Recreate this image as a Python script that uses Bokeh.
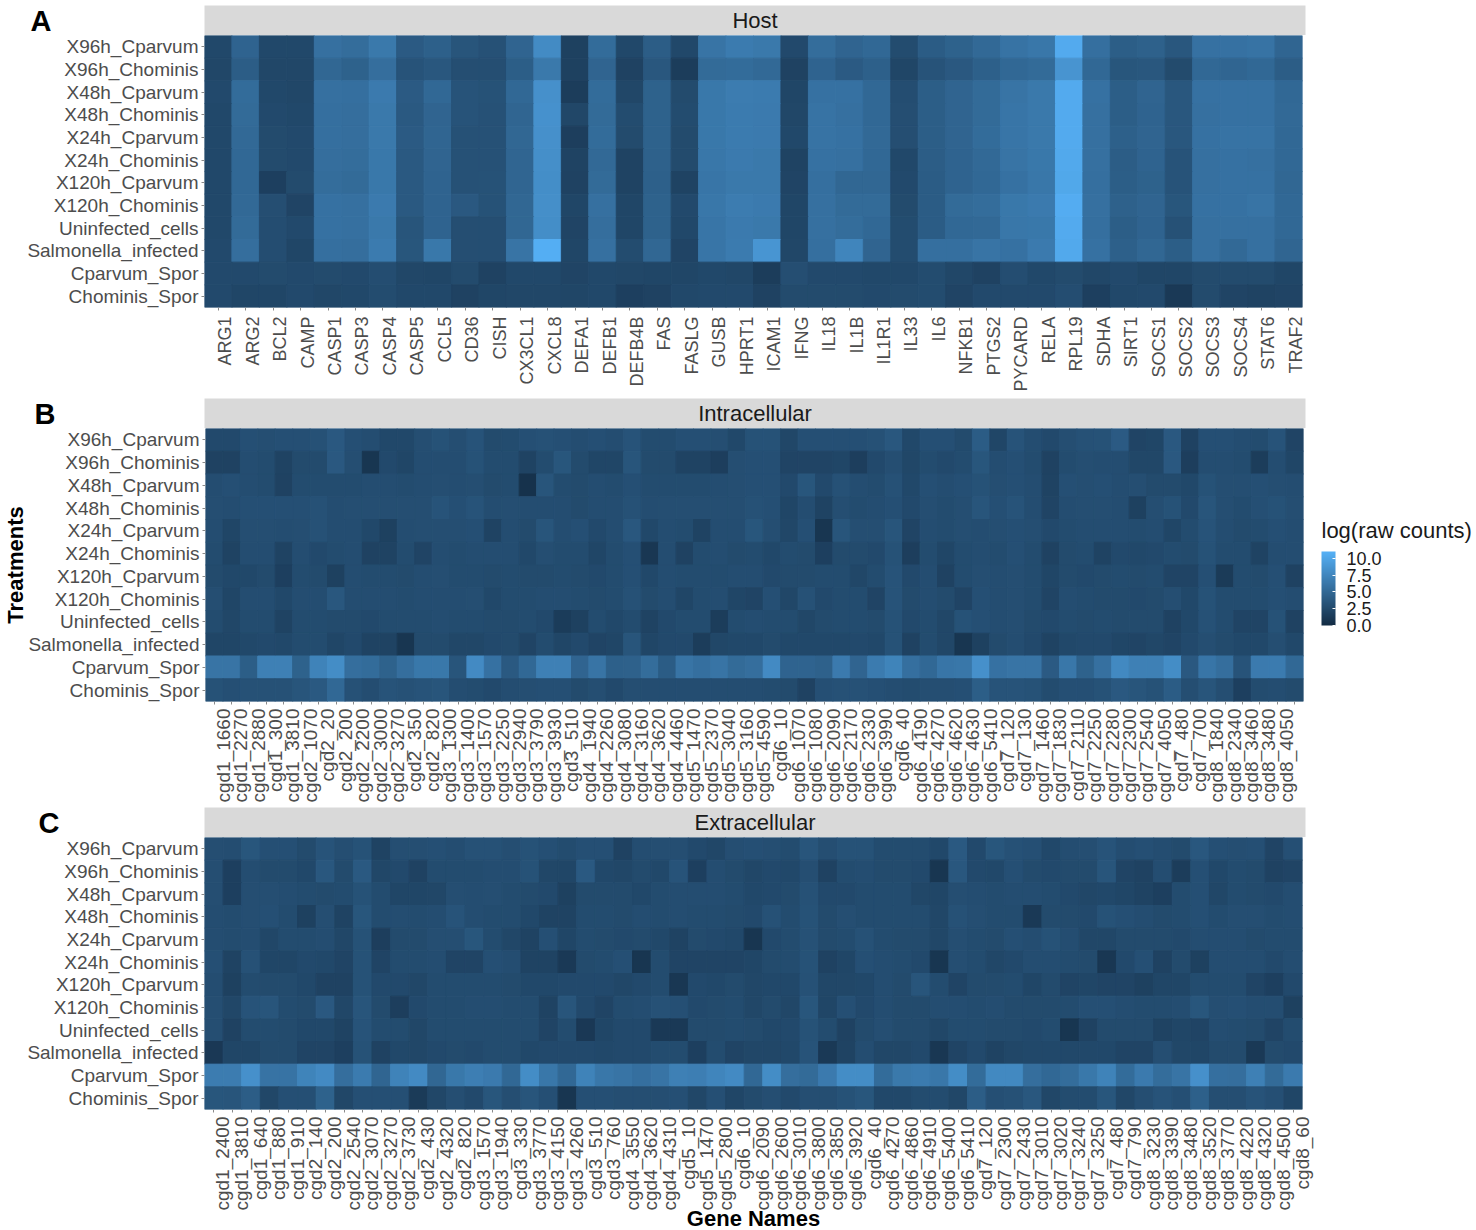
import math
from bokeh.embed import file_html
from bokeh.resources import INLINE
from bokeh.plotting import figure
from bokeh.layouts import column, row
from bokeh.models import (ColumnDataSource, FactorRange, Range1d, LinearColorMapper, ColorBar, LinearAxis,
                          FixedTicker, NumeralTickFormatter, Label, AllLabels)
from bokeh.transform import transform

treatments = ["X96h_Cparvum", "X96h_Chominis", "X48h_Cparvum", "X48h_Chominis", "X24h_Cparvum", "X24h_Chominis",
              "X120h_Cparvum", "X120h_Chominis", "Uninfected_cells", "Salmonella_infected", "Cparvum_Spor", "Chominis_Spor"]

host_genes = ["ARG1", "ARG2", "BCL2", "CAMP", "CASP1", "CASP3", "CASP4", "CASP5", "CCL5", "CD36", "CISH", "CX3CL1", "CXCL8",
              "DEFA1", "DEFB1", "DEFB4B", "FAS", "FASLG", "GUSB", "HPRT1", "ICAM1", "IFNG", "IL18", "IL1B", "IL1R1", "IL33",
              "IL6", "NFKB1", "PTGS2", "PYCARD", "RELA", "RPL19", "SDHA", "SIRT1", "SOCS1", "SOCS2", "SOCS3", "SOCS4", "STAT6", "TRAF2"]

intra_genes = ["cgd1_1660", "cgd1_2270", "cgd1_2880", "cgd1_300", "cgd1_3810", "cgd2_1070", "cgd2_20", "cgd2_200", "cgd2_2200",
               "cgd2_3000", "cgd2_3270", "cgd2_350", "cgd2_820", "cgd3_1300", "cgd3_1400", "cgd3_1570", "cgd3_2250", "cgd3_2940",
               "cgd3_3790", "cgd3_3930", "cgd3_510", "cgd4_1940", "cgd4_2260", "cgd4_3080", "cgd4_3160", "cgd4_3620", "cgd4_4460",
               "cgd5_1470", "cgd5_2370", "cgd5_3040", "cgd5_3160", "cgd5_4590", "cgd6_10", "cgd6_1070", "cgd6_1080", "cgd6_2090",
               "cgd6_2170", "cgd6_2330", "cgd6_3990", "cgd6_40", "cgd6_4190", "cgd6_4270", "cgd6_4620", "cgd6_4630", "cgd6_5410",
               "cgd7_120", "cgd7_130", "cgd7_1460", "cgd7_1830", "cgd7_2110", "cgd7_2250", "cgd7_2280", "cgd7_2300", "cgd7_2540",
               "cgd7_4050", "cgd7_480", "cgd7_700", "cgd8_1840", "cgd8_2340", "cgd8_3460", "cgd8_3480", "cgd8_4050", "cgd8_4500"]

extra_genes = ["cgd1_2400", "cgd1_3810", "cgd1_640", "cgd1_880", "cgd1_910", "cgd2_140", "cgd2_200", "cgd2_2540", "cgd2_3070",
               "cgd2_3270", "cgd2_3730", "cgd2_430", "cgd2_4320", "cgd2_820", "cgd3_1570", "cgd3_1940", "cgd3_330", "cgd3_3770",
               "cgd3_4150", "cgd3_4260", "cgd3_510", "cgd3_760", "cgd4_3550", "cgd4_3620", "cgd4_4310", "cgd5_10", "cgd5_1470",
               "cgd5_2800", "cgd6_10", "cgd6_2090", "cgd6_2600", "cgd6_3010", "cgd6_3800", "cgd6_3850", "cgd6_3920", "cgd6_40",
               "cgd6_4270", "cgd6_4860", "cgd6_4910", "cgd6_5400", "cgd6_5410", "cgd7_120", "cgd7_2300", "cgd7_2430", "cgd7_3010",
               "cgd7_3020", "cgd7_3240", "cgd7_3250", "cgd7_480", "cgd7_790", "cgd8_3230", "cgd8_3390", "cgd8_3480", "cgd8_3520",
               "cgd8_3770", "cgd8_4220", "cgd8_4320", "cgd8_4500", "cgd8_60"]

# Host panel, one list per treatment (top to bottom)
host_x96_cp = [2.4,4.6,2.4,2.4,5.7,5.4,6.4,3.9,4.3,3.4,3.1,4.7,7.9,1.8,5.3,2.4,4.1,2.4,6.0,6.6,6.4,2.5,5.4,4.7,5.0,2.7,4.0,4.5,5.1,5.9,6.2,10.4,5.6,4.2,4.4,3.6,5.8,5.8,5.9,4.8]
host_x96_ch = [2.3,4.1,2.3,2.3,4.9,4.5,5.5,3.3,3.6,2.9,2.9,4.2,6.4,1.8,4.7,1.9,3.6,1.5,5.2,5.3,5.1,1.9,4.6,3.9,4.3,2.2,3.3,3.7,4.3,5.0,5.2,8.6,5.0,3.5,3.6,2.6,5.0,4.8,5.0,4.1]
host_x48_cp = [2.5,5.3,2.4,2.3,5.7,5.6,6.5,3.9,5.0,3.3,3.2,5.0,8.3,1.5,5.3,2.3,4.5,2.6,6.3,6.7,6.6,2.2,5.8,5.8,5.0,2.8,4.2,4.7,5.2,6.0,6.4,10.4,5.8,4.2,4.7,3.6,5.8,5.8,5.8,5.0]
host_x48_ch = [2.4,5.2,2.5,2.4,5.6,5.5,6.4,3.8,4.7,3.3,3.1,4.8,8.4,2.3,5.2,2.7,4.5,2.7,6.3,6.6,6.5,2.3,5.9,5.7,5.0,2.9,4.2,4.7,5.2,6.1,6.4,10.4,5.7,4.2,4.6,3.6,5.7,5.8,5.8,5.1]
host_x24_cp = [2.4,5.1,2.6,2.5,5.6,5.5,6.4,3.9,4.8,3.1,3.1,4.9,8.3,1.6,5.3,2.6,4.5,2.6,6.3,6.6,6.5,2.4,5.9,5.8,5.1,2.9,4.2,4.7,5.3,6.1,6.4,10.4,5.7,4.3,4.7,3.6,5.8,5.9,5.9,5.0]
host_x24_ch = [2.4,5.0,2.6,2.5,5.5,5.4,6.3,3.8,4.7,3.1,3.1,4.8,8.2,2.0,5.1,2.0,4.4,2.6,6.2,6.5,6.4,2.0,5.8,5.7,5.0,2.4,4.1,4.6,5.1,6.0,6.3,10.3,5.7,4.1,4.6,3.3,5.7,5.8,5.7,5.0]
host_x120_cp = [2.4,5.0,1.7,2.6,5.4,5.2,6.3,3.8,4.6,3.1,3.2,4.8,8.1,1.9,5.2,2.0,4.3,2.0,6.1,6.4,6.4,2.1,5.6,4.9,4.9,2.5,4.0,4.6,5.0,5.8,6.2,10.2,5.6,4.2,4.5,3.3,5.7,5.8,5.8,4.9]
host_x120_ch = [2.4,5.1,2.9,2.1,5.8,5.7,6.5,3.8,4.6,3.7,3.2,4.9,8.2,2.2,5.7,2.2,4.5,2.5,6.2,6.7,6.5,2.2,5.7,5.2,5.2,2.6,4.0,5.2,5.4,6.3,6.5,10.6,5.7,4.4,4.7,3.5,5.8,5.8,6.0,5.0]
host_uninf = [2.4,5.2,2.8,2.5,5.8,5.7,6.4,3.4,4.6,2.9,2.9,4.9,8.1,2.1,5.5,2.2,4.5,2.4,6.1,6.5,6.4,2.2,5.7,5.4,5.0,2.7,4.0,5.0,5.1,6.2,6.3,10.4,5.6,4.2,4.6,3.1,5.7,5.7,5.7,5.0]
host_salm = [2.5,5.5,2.8,2.2,5.6,5.5,6.6,3.5,6.3,2.9,2.9,6.0,10.7,2.2,5.7,2.7,4.9,2.1,6.1,6.6,8.7,2.3,5.6,7.4,4.7,2.7,5.6,5.6,6.0,5.8,6.5,10.3,5.8,4.3,4.9,4.2,5.7,5.1,5.7,4.8]
host_cp_spor = [2.5,2.5,2.6,2.5,2.6,2.5,2.8,2.3,2.2,2.6,1.9,2.4,2.4,2.1,2.4,2.3,2.2,2.2,2.4,2.3,1.5,2.9,2.5,2.5,2.4,2.4,2.7,2.3,1.9,2.8,2.4,2.6,2.3,2.5,2.2,2.2,2.6,2.6,2.6,2.2]
host_ch_spor = [2.5,2.2,2.2,2.5,2.3,2.4,2.7,2.4,2.4,1.9,2.2,2.3,2.3,2.2,2.4,1.7,1.9,2.4,2.5,2.5,1.9,2.6,2.6,2.6,2.5,2.6,2.7,2.1,2.5,2.5,2.5,2.8,1.7,2.4,2.5,1.2,2.6,2.1,2.0,2.1]

# Intracellular panel
intra_x96_cp = [2.5,2.5,3.0,2.9,3.0,3.0,3.1,3.7,3.0,2.8, 2.4,2.4,2.9,3.2,2.9,3.3,2.6,2.7,3.0,3.1, 3.0,2.8,3.0,2.8,3.3,2.7,2.7,3.0,3.0,2.9, 2.4,3.2,3.2,2.3,3.0,3.0,3.0,3.0,3.1,3.6, 2.4,3.0,3.0,2.6,4.0,2.2,3.3,2.8,2.5,2.9, 3.1,3.2,3.9,2.1,2.2,3.7,1.9,3.0,3.0,2.8, 2.7,3.3,2.1]
intra_x96_ch = [1.9,1.9,2.8,2.7,2.0,2.6,2.6,3.7,2.9,0.9, 2.5,2.2,2.8,2.8,2.8,3.2,2.7,2.7,2.0,2.7, 3.5,2.6,2.2,2.2,3.4,2.6,2.6,2.0,2.0,1.6, 2.9,3.0,3.0,2.1,2.1,2.1,2.2,1.6,2.5,2.9, 2.3,2.7,2.5,2.7,3.5,2.8,3.0,2.7,1.9,2.7, 2.9,2.8,2.8,2.3,2.3,3.7,1.6,2.8,2.8,2.7, 1.5,2.8,2.2]
intra_x48_cp = [2.8,3.0,2.8,2.7,1.9,2.7,2.7,2.7,2.7,2.8, 2.8,2.7,2.8,2.9,2.8,2.9,2.6,2.7,0.6,3.4, 2.7,2.6,2.8,2.7,3.0,2.7,2.7,2.7,2.7,2.8, 2.9,3.0,3.0,2.5,3.5,2.5,3.1,2.8,2.7,3.1, 2.4,3.0,2.8,3.0,3.2,2.9,3.0,2.8,2.0,3.0, 2.9,3.0,2.8,2.9,2.6,2.6,2.4,3.2,2.9,2.9, 3.0,2.9,2.8]
intra_x48_ch = [2.9,2.8,3.0,3.0,3.0,3.0,3.1,2.8,2.9,2.9, 2.9,2.9,2.9,3.3,3.0,3.3,2.8,2.9,2.8,2.8, 2.8,2.6,2.8,2.8,3.1,2.8,2.9,2.9,2.9,2.9, 2.9,3.1,3.0,2.2,2.8,2.0,2.9,2.7,2.8,3.0, 2.5,2.9,2.7,2.9,3.4,3.0,3.3,2.8,2.1,2.8, 2.9,2.9,2.8,1.8,2.9,3.2,2.5,3.4,2.9,2.7, 3.0,3.2,2.9]
intra_x24_cp = [2.8,2.2,2.9,2.9,2.8,2.9,3.1,2.8,2.8,2.4, 1.8,2.8,2.9,2.9,2.9,3.0,2.0,2.8,2.6,3.4, 2.8,3.0,2.5,2.8,3.6,2.4,2.8,2.7,2.0,2.8, 2.8,3.5,2.9,2.3,3.0,0.9,3.4,2.9,2.9,3.4, 2.1,2.8,2.7,2.9,2.8,2.9,3.0,2.9,2.5,2.7, 2.8,2.8,2.8,2.7,2.8,2.2,2.7,3.3,2.8,2.6, 2.7,3.0,2.8]
intra_x24_ch = [2.7,2.0,2.8,2.8,2.0,2.8,2.5,2.7,2.8,1.9, 2.0,2.7,2.1,2.8,2.7,2.8,2.8,2.8,2.4,2.9, 2.7,2.7,2.2,2.7,3.0,1.0,2.8,1.9,2.7,2.8, 2.6,2.7,2.4,2.7,2.6,1.7,2.6,2.6,2.5,3.2, 1.6,2.7,2.2,2.7,2.8,2.7,3.0,2.7,1.9,2.6, 2.7,2.0,2.5,2.4,2.5,2.7,2.6,3.2,2.7,2.7, 2.0,2.8,2.8]
intra_x120_cp = [2.6,2.4,2.4,2.6,1.7,2.7,2.6,1.8,2.8,2.7, 2.7,2.6,2.8,2.9,2.7,2.7,2.6,2.7,2.6,2.6, 2.7,2.6,2.5,2.7,3.0,2.4,2.8,2.7,2.7,2.7, 2.8,2.8,2.5,2.6,2.6,2.7,2.7,2.3,2.7,3.3, 2.5,2.8,1.9,2.7,2.9,2.8,2.9,2.7,2.2,2.6, 2.5,2.6,2.7,2.6,2.7,2.1,2.1,3.0,1.3,2.7, 2.6,3.0,1.9]
intra_x120_ch = [2.9,2.2,2.8,2.8,2.4,2.8,2.8,3.6,2.8,2.8, 2.8,2.7,2.8,2.8,2.8,2.9,2.4,2.7,2.7,2.8, 2.8,2.7,2.6,2.7,3.1,2.6,2.8,2.2,2.7,2.8, 2.2,2.1,3.0,2.3,3.1,2.5,2.7,2.7,2.1,3.3, 2.6,2.8,2.6,2.1,3.0,2.8,2.9,2.7,2.1,2.8, 2.7,2.6,2.6,2.5,2.6,2.9,2.4,3.2,2.7,2.7, 2.7,3.0,2.8]
intra_uninf = [2.7,2.3,2.7,2.7,2.0,2.7,2.7,2.6,2.6,2.5, 2.7,2.7,2.7,2.8,2.7,2.7,2.6,2.6,2.7,2.5, 1.4,1.8,2.7,2.4,2.7,2.0,2.5,2.7,2.7,1.5, 2.7,2.8,2.7,2.7,2.3,2.6,2.7,2.7,2.6,3.2, 2.5,2.7,2.3,3.2,3.0,2.8,2.9,2.6,2.5,2.7, 2.6,2.7,2.6,2.6,2.6,1.9,2.4,3.1,2.7,2.1, 2.1,3.2,1.9]
intra_salm = [2.2,2.2,2.4,2.5,2.4,2.7,2.7,2.2,2.5,2.0, 2.0,0.9,2.6,2.6,2.3,2.3,2.5,2.6,2.1,2.7, 2.2,2.5,2.1,2.2,3.4,2.2,2.5,2.5,1.5,2.3, 2.4,2.4,2.6,2.4,2.4,2.4,2.4,2.5,2.4,3.2, 1.9,2.7,2.3,0.9,1.8,2.6,2.8,2.5,2.0,2.4, 2.5,2.5,2.2,2.1,2.3,2.1,2.5,2.9,2.6,2.4, 2.4,2.9,2.4]
intra_cp_spor = [6.0,6.0,4.2,7.0,7.0,4.5,7.2,8.0,5.5,5.3, 4.5,5.5,6.3,6.3,3.4,7.8,5.8,3.8,5.0,7.0, 7.0,4.7,6.0,4.3,4.4,5.4,4.0,6.0,5.6,6.0, 5.2,5.5,7.8,4.6,4.6,4.4,6.5,4.7,6.6,7.3, 5.6,5.0,6.1,6.2,8.3,5.8,6.0,6.0,3.9,6.2, 4.5,5.7,7.7,7.0,7.0,8.0,3.7,6.1,5.5,3.3, 6.5,6.6,5.0]
intra_ch_spor = [3.2,3.0,3.1,3.1,3.1,3.4,3.8,5.0,3.1,2.8, 3.3,3.1,3.3,3.4,2.8,2.7,2.5,2.8,2.9,3.0, 3.0,2.6,2.9,2.5,2.9,2.8,2.8,2.8,2.8,2.8, 2.8,2.8,2.7,2.6,1.9,3.0,3.1,3.1,3.0,2.8, 2.7,2.9,2.9,3.0,4.2,3.3,3.3,3.2,2.7,3.0, 3.0,3.2,3.7,3.4,3.2,4.0,2.9,3.4,2.9,1.7, 2.7,2.8,2.6]

# Extracellular panel
extra_x96_cp = [2.9,2.8,3.5,3.0,3.0,2.6,3.3,2.9,3.2,2.0, 2.9,2.9,3.0,2.8,3.1,3.1,2.9,3.2,3.0,2.7, 3.0,3.0,1.9,2.8,2.9,2.9,2.5,2.3,2.9,3.0, 2.9,2.7,3.4,2.9,3.2,3.2,2.7,2.7,2.7,2.4, 3.8,2.5,3.5,3.1,3.0,2.4,2.8,2.9,3.3,2.8, 3.0,2.8,2.6,3.6,3.0,2.9,3.0,2.1,3.0]
extra_x96_ch = [2.9,1.7,2.8,2.6,2.6,2.4,3.6,2.6,3.8,2.3, 2.5,1.9,2.7,2.7,2.7,2.8,2.8,3.2,2.3,2.2, 3.8,2.4,2.3,2.6,2.4,3.3,1.7,2.8,2.6,2.3, 2.5,2.4,2.9,1.9,2.7,2.8,2.6,2.6,2.5,0.9, 3.6,2.5,2.4,3.0,2.6,2.5,2.6,2.6,3.4,2.1, 1.9,2.8,1.5,3.0,2.4,2.7,2.6,1.9,2.1]
extra_x48_cp = [2.9,1.7,2.9,2.9,2.8,2.7,2.6,2.7,3.2,2.7, 2.2,2.2,2.3,2.9,2.8,2.9,2.7,2.6,2.5,1.8, 2.6,2.6,2.6,2.4,2.7,2.8,2.8,2.8,2.7,2.4, 2.5,2.6,3.1,2.5,2.5,2.7,2.7,2.7,2.3,2.2, 2.9,2.8,2.7,2.8,2.8,2.7,2.5,2.3,2.4,2.2, 2.0,1.7,2.7,3.0,2.3,2.7,2.6,2.5,2.8]
extra_x48_ch = [2.8,2.7,2.9,3.0,2.7,1.8,2.9,2.0,3.5,2.7, 2.8,2.7,2.8,3.3,2.8,2.7,2.7,2.4,2.0,2.0, 2.7,2.7,2.6,2.8,2.7,2.8,2.7,2.7,2.6,2.5, 3.1,2.7,3.2,2.6,2.9,2.7,2.7,2.7,2.7,2.3, 3.1,2.9,2.7,2.7,1.2,2.6,2.6,2.5,3.2,3.0, 2.8,2.6,2.7,3.0,2.7,2.9,2.9,2.7,2.8]
extra_x24_cp = [2.8,2.7,2.8,2.3,2.7,2.7,2.8,2.3,3.2,1.6, 2.6,2.6,2.9,2.9,3.5,2.7,2.3,2.0,3.0,2.2, 2.7,2.6,2.5,2.6,2.4,2.0,2.6,2.5,2.4,0.9, 2.5,2.7,3.1,2.6,2.7,3.1,2.7,2.6,2.6,2.3, 2.9,2.7,2.6,3.0,2.8,3.2,2.8,2.3,2.3,2.6, 2.6,2.6,2.5,2.8,2.8,2.8,2.6,2.7,2.7]
extra_x24_ch = [3.0,2.0,3.1,2.2,2.2,2.5,2.4,2.1,3.2,2.1, 2.7,2.7,2.8,2.1,2.1,3.0,2.8,2.0,2.0,1.2, 2.6,2.7,3.0,0.9,2.7,2.1,2.1,2.1,2.1,2.2, 2.6,2.7,3.2,1.9,2.2,3.0,2.8,2.7,2.5,0.9, 2.9,2.7,2.3,2.5,2.8,2.8,2.7,2.6,1.0,2.5, 3.0,1.9,2.6,1.8,2.8,2.8,2.8,2.5,2.8]
extra_x120_cp = [2.8,1.8,2.7,2.6,2.6,2.4,1.9,1.9,3.2,2.5, 2.5,2.3,2.7,2.7,2.7,2.7,2.6,2.4,2.4,2.5, 2.5,2.5,2.3,2.5,2.7,1.0,2.5,2.4,2.6,2.3, 2.4,2.4,3.1,2.3,2.3,2.4,2.8,2.6,3.4,2.7, 2.1,2.6,2.6,2.7,2.2,2.6,2.1,2.2,2.1,2.1, 1.8,2.2,2.2,2.7,2.7,2.7,2.1,1.7,2.5]
extra_x120_ch = [2.9,2.3,3.3,3.4,2.7,2.6,3.7,2.3,3.4,2.6, 1.6,2.5,2.7,2.7,2.8,2.8,2.7,2.7,2.0,3.4, 2.5,2.1,2.7,2.8,3.1,3.0,2.5,2.6,2.7,2.3, 2.6,2.3,3.5,2.2,3.0,2.5,2.8,2.6,2.6,2.8, 2.8,2.7,2.8,2.6,2.6,2.6,2.7,3.0,3.0,2.8, 2.7,2.7,2.8,3.5,2.9,3.0,2.8,2.8,1.8]
extra_uninf = [2.9,1.9,2.7,2.7,2.6,2.4,2.4,2.0,3.3,2.7, 2.7,2.3,2.7,2.7,2.7,2.7,2.7,2.7,2.1,2.7, 1.1,2.2,2.5,2.5,1.2,1.2,2.6,2.6,2.7,2.6, 2.4,2.5,3.2,2.7,1.9,2.6,2.9,2.6,2.6,2.3, 2.7,2.7,2.6,2.6,2.5,2.7,0.9,1.9,2.6,2.6, 2.6,2.0,2.2,2.1,2.8,2.7,2.6,2.1,2.7]
extra_salm = [1.1,2.2,2.2,2.6,2.6,2.1,2.1,1.7,3.2,1.9, 2.4,2.3,2.5,2.6,2.5,2.7,2.7,2.4,2.5,2.5, 2.5,2.4,2.5,2.5,2.7,2.7,1.7,2.7,2.1,2.3, 2.3,2.4,3.3,1.2,2.0,2.8,2.3,2.3,2.5,1.0, 2.1,2.5,2.0,2.3,2.4,2.4,2.4,2.4,2.4,2.1, 2.1,2.9,2.3,2.2,2.6,2.6,1.2,2.6,2.5]
extra_cp_spor = [6.7,6.7,8.3,5.9,5.9,7.3,7.8,5.5,6.6,4.8, 7.2,7.8,4.9,6.3,6.8,6.5,5.0,8.0,6.2,5.0, 7.2,6.2,6.0,5.6,6.0,7.0,6.8,7.4,7.8,5.0, 8.0,5.5,5.2,6.5,8.0,8.0,5.3,6.4,6.6,6.2, 8.0,5.3,7.7,7.7,5.5,5.0,5.4,6.3,7.2,5.3, 6.5,5.4,6.0,8.3,5.6,5.5,7.0,5.2,6.5]
extra_ch_spor = [3.5,3.4,4.1,2.3,3.0,3.0,4.5,2.3,3.0,3.0, 3.0,1.3,2.3,2.9,2.5,3.5,2.9,3.4,3.0,0.9, 3.0,3.0,2.9,2.9,2.9,3.0,2.3,3.0,2.2,2.6, 2.9,2.5,2.9,2.9,3.2,3.5,2.4,2.4,2.7,2.7, 2.3,4.1,3.0,3.1,3.6,2.3,2.7,2.7,3.5,2.3, 2.9,3.3,3.0,4.3,2.9,2.9,3.3,3.0,2.2]

host_rows = [host_x96_cp, host_x96_ch, host_x48_cp, host_x48_ch, host_x24_cp, host_x24_ch, host_x120_cp, host_x120_ch,
             host_uninf, host_salm, host_cp_spor, host_ch_spor]
intra_rows = [intra_x96_cp, intra_x96_ch, intra_x48_cp, intra_x48_ch, intra_x24_cp, intra_x24_ch, intra_x120_cp, intra_x120_ch,
              intra_uninf, intra_salm, intra_cp_spor, intra_ch_spor]
extra_rows = [extra_x96_cp, extra_x96_ch, extra_x48_cp, extra_x48_ch, extra_x24_cp, extra_x24_ch, extra_x120_cp, extra_x120_ch,
              extra_uninf, extra_salm, extra_cp_spor, extra_ch_spor]

FONT = "Liberation Sans"
low, high = (19, 43, 67), (86, 177, 247)
palette = ["#%02x%02x%02x" % tuple(round(a + (b - a) * i / 255) for a, b in zip(low, high)) for i in range(256)]
mapper = LinearColorMapper(palette=palette, low=0, high=11)
FRAME_W = 1098


def strip(name, letter, letter_standoff, top, height):
    s = figure(frame_width=1101, frame_height=height, x_range=Range1d(0, 1), y_range=Range1d(0, 1),
               x_axis_type=None, toolbar_location=None, output_backend="svg",
               background_fill_color="#d9d9d9", outline_line_color=None,
               min_border_left=204, min_border_right=171, min_border_top=top, min_border_bottom=0)
    s.grid.visible = False
    ax = s.yaxis[0]
    ax.ticker = []
    ax.axis_line_color = None
    ax.major_tick_line_color = None
    ax.minor_tick_line_color = None
    ax.major_label_text_color = None
    ax.axis_label = letter
    ax.axis_label_orientation = "horizontal"
    ax.axis_label_standoff = letter_standoff
    ax.axis_label_text_font = FONT
    ax.axis_label_text_font_size = "29px"
    ax.axis_label_text_font_style = "bold"
    ax.axis_label_text_color = "#000000"
    s.add_layout(Label(x=0.5, y=0.5, text=name, text_font=FONT, text_font_size="22px", text_color="#1a1a1a",
                       text_align="center", text_baseline="middle"))
    return s


def panel(genes, rows, height, bottom, label_size, standoff, right, label_shift_px):
    xs, gs, ys, vs = [], [], [], []
    for t, r in zip(treatments, rows):
        for i, (g, v) in enumerate(zip(genes, r)):
            xs.append(i); gs.append(g); ys.append(t); vs.append(v)
    source = ColumnDataSource(dict(position=xs, gene=gs, treatment=ys, value=vs))
    n = len(genes)
    shift = label_shift_px / (FRAME_W / n)
    p = figure(frame_width=FRAME_W, frame_height=height, x_range=Range1d(-0.5, n - 0.5),
               y_range=FactorRange(*reversed(treatments)), toolbar_location=None, output_backend="svg",
               outline_line_color=None, min_border_left=204, min_border_right=right, min_border_top=0,
               min_border_bottom=bottom)
    p.rect(x="position", y="treatment", width=1, height=1, source=source, fill_color=transform("value", mapper),
           line_color=transform("value", mapper), line_width=1)
    p.grid.visible = False
    for ax in (p.xaxis[0], p.yaxis[0]):
        ax.axis_line_color = None
        ax.major_tick_line_color = "#8a8a8a"
        ax.major_tick_out = 3
        ax.major_tick_in = 0
        ax.minor_tick_line_color = None
        ax.major_label_text_font = FONT
        ax.major_label_text_color = "#4d4d4d"
        ax.axis_label_text_font = FONT
        ax.axis_label_text_font_size = "22px"
        ax.axis_label_text_font_style = "bold"
        ax.axis_label_text_color = "#000000"
    p.yaxis[0].major_label_text_font_size = "19px"
    p.yaxis[0].major_label_standoff = 3
    # the first x axis keeps the tick marks; the gene names come from a second axis set slightly to the right
    p.xaxis[0].ticker = FixedTicker(ticks=list(range(n)))
    p.xaxis[0].major_label_overrides = {i: "" for i in range(n)}
    p.xaxis[0].major_label_text_font_size = "0px"
    p.xaxis[0].major_label_text_color = None
    p.xaxis[0].major_label_standoff = 0
    p.extra_x_ranges["names"] = Range1d(-0.5 - shift, n - 0.5 - shift)
    names = LinearAxis(x_range_name="names", ticker=FixedTicker(ticks=list(range(n))),
                       major_label_overrides={i: g for i, g in enumerate(genes)},
                       axis_line_color=None, major_tick_line_color=None, minor_tick_line_color=None,
                       major_tick_in=0, major_tick_out=0,
                       major_label_orientation=math.pi / 2, major_label_standoff=standoff,
                       major_label_text_font=FONT, major_label_text_font_size=label_size,
                       major_label_text_color="#4d4d4d",
                       axis_label_text_font=FONT, axis_label_text_font_size="22px",
                       axis_label_text_font_style="bold", axis_label_text_color="#000000")
    p.add_layout(names, "below")
    return p, names


pA, _ = panel(host_genes, host_rows, 272, 91, "18px", 6, 174, 7)
pB, _ = panel(intra_genes, intra_rows, 273, 106, "19px", 4, 6, 9)
pC, names_c = panel(extra_genes, extra_rows, 272, 120, "19px", 4, 174, 9)
pB.yaxis[0].axis_label = "Treatments"
pB.yaxis[0].axis_label_standoff = -3
names_c.axis_label = "Gene Names"
names_c.axis_label_standoff = -8

# legend figure placed right of the middle panel
leg = figure(frame_width=168, frame_height=273, x_range=Range1d(0, 1), y_range=Range1d(0, 1),
             x_axis_type=None, y_axis_type=None, toolbar_location=None, output_backend="svg",
             outline_line_color=None, min_border_left=0, min_border_right=0, min_border_top=0, min_border_bottom=106)
leg.grid.visible = False
cb = ColorBar(color_mapper=mapper, width=14, height=74, location=(1320 - 1308, 701 - 625), padding=0,
              ticker=FixedTicker(ticks=[0, 2.5, 5, 7.5, 10]), formatter=NumeralTickFormatter(format="0.0"),
              major_label_policy=AllLabels(),
              major_label_text_font=FONT, major_label_text_font_size="18px", major_label_text_color="#1a1a1a",
              major_tick_line_color="#ffffff", major_tick_in=3, major_tick_out=0, minor_tick_line_color=None,
              bar_line_color=None, label_standoff=11, background_fill_color=None, border_line_color=None)
leg.add_layout(cb, "center")
leg.add_layout(Label(x=1320 - 1308, y=701 - 530, x_units="screen", y_units="screen", text="log(raw counts)", text_font=FONT,
                     text_font_size="22px", text_color="#1a1a1a", text_align="left", text_baseline="middle"))

page = column(strip("Host", "A", 153, 5, 30), pA,
              strip("Intracellular", "B", 149, 0, 30), row(pB, leg, spacing=0),
              strip("Extracellular", "C", 145, 0, 30), pC,
              spacing=0)

open("out.html", "w").write(file_html(page, INLINE))
